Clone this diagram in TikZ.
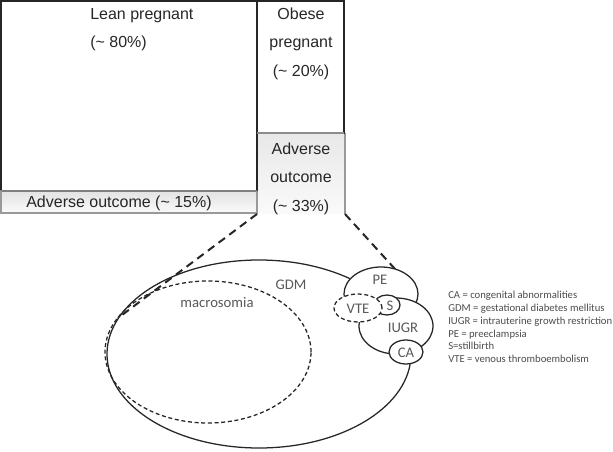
\documentclass[tikz,border=0pt]{standalone}
\usepackage{fontspec}
\setmainfont{Liberation Sans}
\newfontfamily\calib{Carlito}
\usetikzlibrary{shapes.geometric}
\begin{document}
\begin{tikzpicture}[x=0.75pt,y=-0.75pt,
  boxline/.style={line width=1.1pt, draw=black!85},
  toptext/.style={font=\fontsize{12}{14}\selectfont, text=black!85, inner sep=0pt},
  ell/.style={ellipse, draw=black!85, line width=0.95pt, fill=white, inner sep=0pt},
  ellab/.style={font=\calib\fontsize{11}{13}\selectfont, text=black!65, inner sep=0pt},
  legend/.style={font=\calib\fontsize{8}{9.6}\selectfont, text=black!70, inner sep=0pt, anchor=base west},
  zoomline/.style={line width=1.5pt, dash pattern=on 6pt off 4pt, draw=black!85}]
\useasboundingbox (0,0) rectangle (613,452);
% adverse outcome strips
\shade[top color=black!11, bottom color=black!2] (0,191) rectangle (257,213);
\shade[top color=black!9, bottom color=black!2] (257,133) rectangle (345,214);
\draw[line width=1pt, draw=black!40] (257,133) -- (257,214);
\draw[line width=1pt, draw=black!40] (345,133) -- (345,214);
\draw[line width=0.8pt, draw=black!40] (0,213) -- (257,213);
% lean box
\draw[boxline] (1,191) -- (1,1) -- (257,1) -- (257,191);
\draw[line width=1.4pt, draw=black!50] (0,191) -- (257,191);
\draw[line width=1pt, draw=black!40] (1,191) -- (1,213);
% obese box
\draw[boxline] (257,133) rectangle (344,1);
\draw[line width=1.2pt, draw=black!45] (257,133) -- (344,133);
% texts
\node[toptext, anchor=base west] (lean) at (90,20) {Lean pregnant};
\node[toptext, anchor=base west] (leanp) at (90,48) {(\textasciitilde{} 80\%)};
\node[toptext, anchor=base] (ob1) at (301,20) {Obese};
\node[toptext, anchor=base] (ob2) at (301,48) {pregnant};
\node[toptext, anchor=base] (ob3) at (301,77) {(\textasciitilde{} 20\%)};
\node[toptext, anchor=base] (ad1) at (301,155) {Adverse};
\node[toptext, anchor=base] (ad2) at (301,183) {outcome};
\node[toptext, anchor=base] (ad3) at (301,212) {(\textasciitilde{} 33\%)};
\node[toptext, anchor=base] (adl) at (119,208) {Adverse outcome (\textasciitilde{} 15\%)};
% corners of zoom
\coordinate (zl) at (257,214);
\coordinate (zr) at (345,214);
\coordinate (el) at (118,318);
\coordinate (er) at (405,280);
% ellipses
\node[ell, minimum width=228pt, minimum height=141pt] (gdm) at (259,354) {};
\node[ell, dashed, dash pattern=on 3pt off 2pt, fill=none, minimum width=154.5pt, minimum height=106.5pt] (macro) at (208,352) {};
\draw[zoomline] (zl) -- (el);
\draw[zoomline] (zr) -- (er);
\node[ell, minimum width=55.5pt, minimum height=40.5pt] (pe) at (381,294) {};
\node[ell, minimum width=55.5pt, minimum height=42pt] (iugr) at (396,326) {};
\node[ell, minimum width=25.5pt, minimum height=18pt] (ca) at (406,352) {};
\node[ell, minimum width=19.5pt, minimum height=15pt] (s) at (387,305) {};
\node[ell, dashed, dash pattern=on 3pt off 2pt, minimum width=36pt, minimum height=21pt] (vte) at (358,308) {};
% labels
\node[ellab] (gdml) at (291,285) {GDM};
\node[ellab] (macl) at (217,303) {macrosomia};
\node[ellab] (pel) at (380,280) {PE};
\node[ellab] (iugrl) at (403,328) {IUGR};
\node[ellab] (sl) at (390,306) {S};
\node[ellab] (vtel) at (358,309) {VTE};
\node[ellab] (cal) at (406,353) {CA};
% legend
\node[legend] (l1) at (448,298) {CA = congenital abnormalities};
\node[legend] (l2) at (448,311) {GDM = gestational diabetes mellitus};
\node[legend] (l3) at (448,324) {IUGR = intrauterine growth restriction};
\node[legend] (l4) at (448,337) {PE = preeclampsia};
\node[legend] (l5) at (448,349) {S=stillbirth};
\node[legend] (l6) at (448,362) {VTE = venous thromboembolism};
\end{tikzpicture}
\end{document}
